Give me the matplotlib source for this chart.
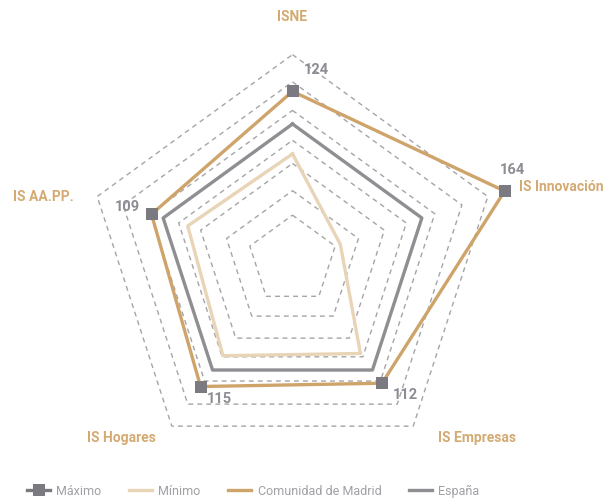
import matplotlib.pyplot as plt
import numpy as np
from matplotlib.lines import Line2D

# datos del gráfico
ejes = ['ISNE', 'IS Innovación', 'IS Empresas', 'IS Hogares', 'IS AA.PP.']
maximo = [124, 164, 112, 115, 109]
minimo = [78, 37, 85, 87, 81]
madrid = [124, 164, 112, 115, 109]
espana = [100, 100, 100, 100, 100]
anillos = [33, 51, 71, 88, 110, 131, 151]

ORO = '#CFA46B'
ORO_TXT = '#D4AA72'
BEIGE = '#E8D4B6'
GRIS = '#8E8E93'
GRIS_MAX = '#7A7A80'
GRIS_TXT = '#8C8C92'
FUENTE = ['Roboto', 'DejaVu Sans']

W, H = 608, 501
CX, CY = 292.5, 260
RMAX = 175
ESCALA = 1.36  # px por unidad


def cerrar(v):
    return list(v) + [v[0]]


fig = plt.figure(figsize=(W / 100, H / 100), dpi=100)
rpx = RMAX * ESCALA
ax = fig.add_axes([(CX - rpx) / W, (H - CY - rpx) / H, 2 * rpx / W, 2 * rpx / H], polar=True)
ax.set_theta_offset(np.pi / 2)
ax.set_theta_direction(-1)
ax.set_ylim(0, RMAX)
ax.set_xticks([])
ax.set_yticks([])
ax.grid(False)
ax.spines['polar'].set_visible(False)
ax.patch.set_visible(False)

ang = np.arange(len(ejes)) * 2 * np.pi / len(ejes)
ang_c = cerrar(ang)

# anillos punteados
for a in anillos:
    ax.plot(ang_c, [a] * len(ang_c), color='#A5A5A8', lw=1.0,
            linestyle=(0, (3.5, 3)), zorder=1)

ax.plot(ang_c, cerrar(minimo), color=BEIGE, lw=2.4, zorder=2)
ax.plot(ang_c, cerrar(espana), color=GRIS, lw=2.4, zorder=2)
ax.plot(ang_c, cerrar(madrid), color=ORO, lw=2.4, zorder=3)
ax.plot(ang, maximo, linestyle='none', marker='s', markersize=9,
        markeredgewidth=0, color=GRIS_MAX, zorder=4)

# etiquetas de valores máximos
offsets = [(24, 21), (8, 21), (23, -12), (19, -12), (-24, 7)]
for t, v, off in zip(ang, maximo, offsets):
    ax.annotate(str(v), xy=(t, v), xytext=off, textcoords='offset pixels',
                ha='center', va='center', fontsize=10.5, fontweight='bold',
                color=GRIS_TXT, family=FUENTE, annotation_clip=False)

# nombres de los ejes
pos_ejes = [(292, 17, 'center'), (519, 187, 'left'), (477, 438, 'center'),
            (121, 438, 'center'), (13, 197, 'left')]
for nombre, (x, y, ha) in zip(ejes, pos_ejes):
    fig.text(x / W, 1 - y / H, nombre, ha=ha, va='center', fontsize=10,
             fontweight='bold', color=ORO_TXT, family=FUENTE)

handles = [
    Line2D([], [], color=GRIS_MAX, lw=2.4, marker='s', markersize=9, markeredgewidth=0),
    Line2D([], [], color=BEIGE, lw=2.4),
    Line2D([], [], color=ORO, lw=2.4),
    Line2D([], [], color=GRIS, lw=2.4),
]
leg = fig.legend(handles, ['Máximo', 'Mínimo', 'Comunidad de Madrid', 'España'],
                 loc='center left', bbox_to_anchor=(27 / W, 1 - 491 / H), ncol=4,
                 frameon=False, borderpad=0, borderaxespad=0, handlelength=1.85,
                 handletextpad=0.5, columnspacing=2.2,
                 prop={'family': FUENTE, 'size': 9})
for txt in leg.get_texts():
    txt.set_color('#A0A0A5')

fig.savefig('out.png', dpi=100)
